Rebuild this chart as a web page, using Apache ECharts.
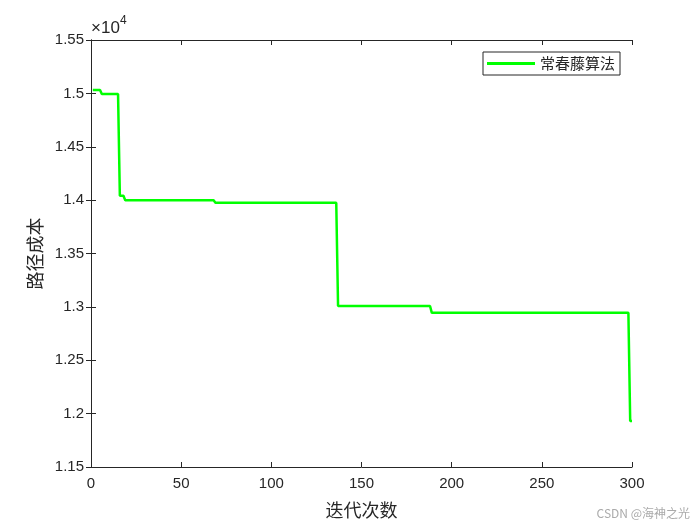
<!DOCTYPE html>
<html>
<head>
<meta charset="utf-8">
<script src="https://cdn.jsdelivr.net/npm/echarts@6/dist/echarts.min.js"></script>
<style>html,body{margin:0;padding:0;background:#fff}#c{width:700px;height:525px}</style>
</head>
<body>
<div id="c"></div>
<script>
// Data
const iterations = [1, 5, 6, 15, 16, 18, 19, 68, 69, 136, 137, 188, 189, 298, 299, 300];
const pathCost   = [15032, 15032, 14994, 14994, 14041, 14041, 13998, 13998, 13976, 13976, 13008, 13008, 12944, 12944, 11931, 11931];
const seriesName = '常春藤算法';
const xTicks = [0, 50, 100, 150, 200, 250, 300];
const yTicks = [11500, 12000, 12500, 13000, 13500, 14000, 14500, 15000, 15500];

const points = iterations.map((x, i) => [x, pathCost[i]]);
const axisColor = '#262626';
const fmtY = v => String(+(v / 1e4).toFixed(2));
const chart = echarts.init(document.getElementById('c'));
const tickStyle = {show: true, inside: true, length: 5, lineStyle: {color: axisColor, width: 1}};
chart.setOption({
  animation: false,
  backgroundColor: '#fff',
  grid: {left: 91, right: 68, top: 40, bottom: 58, containLabel: false},
  xAxis: [
    {type: 'value', min: xTicks[0], max: xTicks[xTicks.length - 1], interval: 50, position: 'bottom',
     name: '迭代次数', nameLocation: 'middle', nameGap: 34,
     nameTextStyle: {fontFamily: 'Noto Sans CJK SC', fontSize: 18, color: axisColor},
     axisLine: {show: true, lineStyle: {color: axisColor, width: 1}},
     axisTick: tickStyle, splitLine: {show: false},
     axisLabel: {fontFamily: 'Liberation Sans', fontSize: 15, color: axisColor, margin: 9}},
    {type: 'value', min: xTicks[0], max: xTicks[xTicks.length - 1], interval: 50, position: 'top',
     axisLine: {show: true, lineStyle: {color: axisColor, width: 1}},
     axisTick: tickStyle, axisLabel: {show: false}, splitLine: {show: false}}
  ],
  yAxis: [
    {type: 'value', min: yTicks[0], max: yTicks[yTicks.length - 1], interval: 500, position: 'left',
     name: '路径成本', nameLocation: 'middle', nameGap: 44, nameRotate: 90,
     nameTextStyle: {fontFamily: 'Noto Sans CJK SC', fontSize: 18, color: axisColor},
     axisLine: {show: true, lineStyle: {color: axisColor, width: 1}},
     axisTick: tickStyle, splitLine: {show: false},
     axisLabel: {fontFamily: 'Liberation Sans', fontSize: 15, color: axisColor, margin: 7, formatter: fmtY}},
    {type: 'value', min: yTicks[0], max: yTicks[yTicks.length - 1], interval: 500, position: 'right',
     axisLine: {show: true, lineStyle: {color: axisColor, width: 1}},
     axisTick: tickStyle, axisLabel: {show: false}, splitLine: {show: false}}
  ],
  legend: {
    left: 483, top: 52, orient: 'horizontal',
    data: [{name: seriesName, icon: 'rect'}],
    itemWidth: 48, itemHeight: 3, itemGap: 5,
    padding: [4, 5, 4, 4],
    borderColor: axisColor, borderWidth: 1, borderRadius: 0, backgroundColor: '#fff',
    textStyle: {fontFamily: 'Noto Sans CJK SC', fontSize: 15, color: axisColor, padding: [0, 0, 0, 0]}
  },
  graphic: [
    {type: 'text', left: 91, top: 20, style: {
      text: '×10', fontFamily: 'Liberation Sans', fontSize: 17, fill: axisColor}},
    {type: 'text', left: 120, top: 15, style: {
      text: '4', fontFamily: 'Liberation Sans', fontSize: 12, fill: axisColor}},
    {type: 'text', right: 10, bottom: 6, style: {
      text: 'CSDN @海神之光', fontFamily: 'Noto Sans CJK SC', fontSize: 12, fill: '#aaaaaa'}}
  ],
  series: [{
    name: seriesName, type: 'line', data: points,
    symbol: 'none', showSymbol: false,
    lineStyle: {color: '#00ff00', width: 2.5},
    itemStyle: {color: '#00ff00'}
  }]
});
</script>
</body>
</html>
